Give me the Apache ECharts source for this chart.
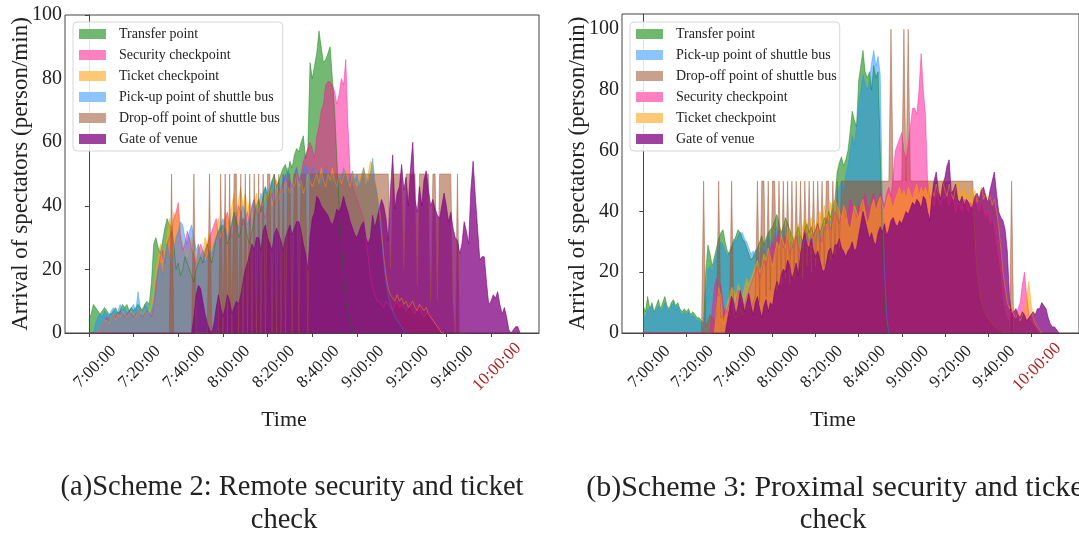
<!DOCTYPE html>
<html><head><meta charset="utf-8">
<script src="https://cdn.jsdelivr.net/npm/echarts@6.0.0/dist/echarts.min.js"></script>
<style>html,body{margin:0;padding:0;background:#fff}#c{width:1079px;height:535px}</style>
</head><body><div id="c"></div><script>
// x = minutes after 7:00:00 (array index = minute)
const xTickValues = [0,20,40,60,80,100,120,140,160,180];
const xTickLabels = ['7:00:00','7:20:00','7:40:00','8:00:00','8:20:00','8:40:00','9:00:00','9:20:00','9:40:00','10:00:00'];
const yTickValues = [0,20,40,60,80,100];

// ---------- (a) Scheme 2 ----------
const L_transfer = [
4,6,9,8,7,6,7,8,7,6, 6,7,8,6,7,9,8,9,7,8, 7,8,9,8,7,9,10,9,16,28, 30,27,25,29,33,36,34,33,28,20,
22,18,20,24,22,20,18,16,20,22, 24,22,26,28,24,22,26,30,32,33, 34,32,28,30,34,38,35,30,32,36, 34,30,28,32,36,40,42,38,44,46,
42,44,48,50,46,48,50,52,53,50, 54,52,56,58,57,60,62,55,58,85, 80,84,88,95,90,85,86,88,90,80, 70,55,40,28,18,10,6,3,1,0];
const L_security = [
0,0,0,0,0,2,3,4,5,4, 5,6,5,6,7,6,5,6,7,6, 5,6,7,6,5,6,7,6,5,8, 14,20,24,26,22,28,30,32,36,38,
41,30,26,28,32,30,26,24,22,26, 28,26,24,28,30,32,34,36,30,28, 32,36,38,34,30,32,36,40,38,34, 36,38,34,40,42,38,36,40,38,36,
40,42,44,40,42,46,44,48,50,46, 48,46,50,52,48,50,54,56,58,60, 58,55,62,65,70,72,78,79,79,78, 76,72,75,80,78,86,65,50,46,44,
42,40,38,36,30,24,18,14,12,10, 10,9,8,10,9,8,7,9,10,8, 9,8,7,8,9,7,6,8,9,6, 5,6,7,5,4,3,2,1,0,0];
const L_ticket = [
0,0,0,0,0,2,3,4,4,3, 5,6,4,6,5,7,6,5,6,7, 6,5,7,6,8,7,6,7,8,14, 20,24,28,22,26,30,36,32,38,35,
40,32,28,26,24,28,30,26,22,28, 24,26,30,28,32,26,30,34,36,30, 32,38,34,36,40,44,38,42,46,40, 44,38,42,36,40,44,38,42,40,44,
42,46,40,44,48,42,46,44,48,46, 44,48,46,50,46,48,44,46,50,48, 46,48,50,47,52,48,46,50,48,52, 48,46,50,47,49,52,48,46,50,48,
46,48,50,52,47,50,54,53,48,45, 40,32,24,18,14,12,11,10,12,10, 11,9,10,8,9,10,8,7,9,8, 7,8,6,5,4,3,2,1,0,0];
const L_pickup = [
0,0,0,3,5,6,5,7,6,5, 7,8,6,7,9,7,8,6,7,8, 9,7,13,8,7,9,8,6,7,10, 16,20,22,18,24,28,25,22,26,30,
32,35,34,30,28,32,34,30,26,28, 24,26,22,24,26,25,28,30,32,34, 36,34,30,32,35,38,36,33,37,40, 38,34,36,40,42,38,40,44,42,46,
44,46,48,44,46,48,45,50,47,52, 48,46,50,52,49,47,51,53,50,48, 52,50,48,51,46,50,52,48,50,47, 49,46,50,48,52,50,47,49,51,48,
50,46,48,52,49,47,50,55,48,44, 38,30,22,16,12,9,7,5,4,3, 2,1,0];
const L_dropoff = [
0,0,0,0,0,0,0,0,0,0, 0,0,0,0,0,0,0,0,0,0, 0,0,0,0,0,0,0,0,0,0, 0,0,0,0,0,0,0,50,0,0,
0,0,0,0,0,0,0,50,0,0, 0,0,0,0,50,0,0,0,0,50, 0,50,0,50,0,50,50,0,50,0, 50,0,50,0,50,0,50,0,50,0,
50,50,0,50,0,50,0,50,0,50, 50,0,50,50,0,50,50,50,0,50, 50,50,50,50,50,50,50,50,50,50, 50,50,50,50,50,50,50,50,50,50,
50,50,50,50,50,50,50,50,50,50, 50,50,50,50,50,20,50,50,50,50, 50,20,50,50,50,50,50,15,50,50, 50,50,50,10,50,50,10,50,50,50,
50,50,50,10,0,50,0,0,0,0];
const L_gate = [
0,0,0,0,0,0,0,0,0,0, 0,0,0,0,0,0,0,0,0,0, 0,0,0,0,0,0,0,0,0,0, 0,0,0,0,0,0,0,0,0,0,
0,0,0,0,0,0,0,5,12,15, 14,10,6,3,1,0,3,8,12,8, 5,8,12,10,6,8,10,9,12,16, 20,22,25,28,26,30,30,26,32,34,
30,28,26,31,33,31,29,26,30,32, 34,31,33,35,35,32,28,25,20,30, 36,38,43,42,40,39,38,37,35,34, 36,39,38,40,43,40,38,35,33,31,
30,32,34,35,30,28,30,37,33,36, 39,42,40,36,29,45,56,39,44,46, 53,45,49,40,52,60,42,38,46,40, 48,51,45,40,42,39,37,36,40,44,
40,35,38,33,30,29,25,28,35,32, 28,45,54,43,33,23,24,24,16,9, 10,12,11,13,9,6,8,5,1,0, 1,2,2,0];

// ---------- (b) Scheme 3 ----------
const R_transfer = [
9,7,12,8,10,7,9,11,8,10, 12,9,8,10,11,9,10,8,7,8, 7,8,6,7,6,5,5,4,3,20, 29,26,22,25,28,31,33,34,30,27,
26,28,30,32,34,33,31,30,28,26, 24,25,27,28,30,32,29,31,33,34, 35,37,39,36,33,35,38,36,34,32, 30,33,35,32,30,34,36,33,35,32,
34,36,33,35,38,36,40,38,42,44, 53,56,58,55,57,60,66,73,70,68, 83,88,93,86,84,86,80,88,84,86, 60,30,8,2,0];
const R_pickup = [
6,5,8,7,9,6,8,9,7,8, 10,8,7,9,10,8,9,7,6,7, 6,7,5,6,5,4,4,3,2,10, 21,22,20,23,26,28,30,29,27,25,
27,29,31,30,32,33,33,31,30,28, 26,27,25,28,26,29,27,30,32,30, 31,33,35,32,30,33,35,33,31,29, 28,31,32,30,28,31,33,30,32,29,
31,33,30,33,35,34,37,36,40,42, 45,48,50,46,52,55,60,65,62,68, 75,80,85,82,80,83,89,93,88,91, 85,44,20,5,0];
const R_dropoff = [
0,0,0,0,0,0,0,0,0,0, 0,0,0,0,0,0,0,0,0,0, 0,0,0,0,0,0,0,0,50,2, 4,6,5,4,6,50,5,6,8,7,
6,50,6,5,7,8,6,7,8,9, 8,10,12,50,10,50,50,12,50,14, 50,50,14,50,16,50,18,50,16,50, 18,50,20,50,18,50,22,50,20,50,
22,50,24,50,22,50,50,24,50,26, 50,28,50,50,50,50,50,50,50,50, 50,50,50,50,50,50,50,50,50,50, 50,50,50,50,50,100,50,50,50,50,
50,100,50,100,50,50,50,50,50,50, 50,50,50,50,50,50,50,50,50,50, 50,50,50,50,50,50,50,50,50,50, 50,50,50,50,30,20,15,10,8,6,
5,4,3,2,2,1,1,0,0,0, 0,50,0];
const R_security = [
0,0,0,0,0,0,0,0,0,0, 0,0,0,0,0,0,0,0,0,0, 0,0,0,0,0,0,0,0,0,0, 0,0,8,15,18,12,16,10,6,8,
10,12,8,10,14,12,10,9,12,14, 16,18,20,22,18,20,24,22,26,28, 30,28,32,34,30,28,32,30,26,28, 30,32,28,26,30,34,32,30,28,32,
34,36,32,30,34,38,36,34,38,40, 38,36,40,42,38,40,44,42,40,38, 42,40,44,46,42,40,44,46,42,44, 46,44,42,46,48,45,52,60,62,64,
66,60,57,62,68,74,74,72,80,92, 80,72,50,45,44,42,46,44,42,45, 44,46,42,45,44,40,43,42,40,44, 42,40,43,41,44,42,40,43,41,38,
40,36,38,35,30,25,20,12,8,5, 4,8,5,6,8,10,16,20,12,6, 4,3,2,1,0];
const R_ticket = [
0,0,0,0,0,0,0,0,0,0, 0,0,0,0,0,0,0,0,0,0, 0,0,0,0,0,0,0,0,0,0, 0,0,0,0,8,15,12,3,6,10,
12,15,14,12,16,14,12,15,18,16, 18,20,22,24,20,22,26,24,28,25, 22,26,30,28,32,30,28,35,30,33, 30,34,36,32,35,38,36,34,38,36,
35,38,40,36,42,40,38,43,41,44, 42,40,38,42,40,36,34,38,42,40, 38,42,44,40,36,38,42,44,40,43, 45,42,40,44,46,43,41,44,46,48,
45,47,44,48,46,44,47,49,45,48, 46,48,45,50,47,45,49,46,48,50, 47,45,49,46,44,48,50,47,45,49, 46,44,48,45,47,43,45,48,44,46,
43,45,42,44,40,35,28,20,15,10, 8,10,6,5,7,4,6,8,12,17, 10,5,3,2,1,0];
const R_gate = [
0,0,0,0,0,0,0,0,0,0, 0,0,0,0,0,0,0,0,0,0, 0,0,0,0,0,0,0,0,0,0, 0,0,0,0,0,0,0,0,0,4,
8,12,10,6,9,14,11,7,10,13, 9,6,10,12,8,5,9,11,7,10, 9,14,17,15,19,21,20,24,22,18, 20,23,19,26,30,33,29,28,31,27,
25,27,24,21,20,23,27,28,25,29, 29,31,28,27,25,27,28,30,27,28, 32,36,40,37,34,31,33,30,29,33, 35,33,36,32,34,37,38,36,35,37,
36,38,40,39,41,43,42,44,43,41, 45,44,40,37,45,50,53,47,44,49, 51,55,57,46,47,49,44,43,45,42, 44,43,41,42,45,46,44,47,48,45,
43,47,50,53,46,40,38,37,34,27, 12,6,7,8,6,5,7,6,4,5, 6,7,6,8,8,10,9,8,5,3, 2,2,1,0];

const N_T='Transfer point', N_S='Security checkpoint', N_K='Ticket checkpoint',
      N_P='Pick-up point of shuttle bus', N_D='Drop-off point of shuttle bus', N_G='Gate of venue';
const fills = {[N_T]:'rgba(0,128,0,0.55)',[N_S]:'rgba(255,20,147,0.52)',[N_K]:'rgba(255,165,0,0.55)',
  [N_P]:'rgba(30,144,255,0.5)',[N_D]:'rgba(160,82,45,0.55)',[N_G]:'rgba(128,0,128,0.75)'};
const swatch = {[N_T]:'#70b870',[N_S]:'#ff80c0',[N_K]:'#ffc874',[N_P]:'#8cc4fc',[N_D]:'#c8a08c',[N_G]:'#a040a0'};

const leftOrder = [[N_T,L_transfer],[N_S,L_security],[N_K,L_ticket],[N_P,L_pickup],[N_D,L_dropoff],[N_G,L_gate]];
const rightOrder = [[N_T,R_transfer],[N_P,R_pickup],[N_D,R_dropoff],[N_S,R_security],[N_K,R_ticket],[N_G,R_gate]];

const FONT = '"Liberation Serif","Times New Roman",serif';

function mkSeries(name, arr, gi){
  return {type:'line', name, xAxisIndex:gi, yAxisIndex:gi, silent:true,
    data: arr.map((v,i)=>[i,v]), symbol:'none', showSymbol:false,
    lineStyle:{width:0.8,color:fills[name]}, itemStyle:{color:swatch[name]},
    areaStyle:{color:fills[name], opacity:1}, animation:false};
}
function xAxis(gi,min,max){
  return {type:'value', gridIndex:gi, min, max,
    axisLine:{show:true,onZero:false,lineStyle:{color:'#444',width:1}},
    axisTick:{show:true,length:4,customValues:xTickValues,lineStyle:{color:'#444'}},
    splitLine:{show:false},
    axisLabel:{customValues:xTickValues, rotate:45, align:'center', verticalAlign:'middle', margin:40,
      padding:[0,0,0,17],
      fontFamily:FONT, fontSize:17, color:'#222',
      formatter:(v)=>{const i=xTickValues.indexOf(Math.round(v)); const t=xTickLabels[i];
        return i===xTickLabels.length-1?'{r|'+t+'}':t;},
      rich:{r:{color:'#b31b1b',fontFamily:FONT,fontSize:17}}}};
}
function yAxis(gi,max,gap){
  return {type:'value', gridIndex:gi, min:0, max,
    axisLine:{show:true,lineStyle:{color:'#444',width:1}},
    axisTick:{show:true,length:4,customValues:yTickValues,lineStyle:{color:'#444'}},
    splitLine:{show:false},
    axisLabel:{customValues:yTickValues, margin:3, fontFamily:FONT, fontSize:20, color:'#222'},
    name:'Arrival of spectators (person/min)', nameLocation:'middle', nameGap:gap, nameRotate:90,
    nameMoveOverlap:false,
    nameTextStyle:{fontFamily:FONT,fontSize:23,color:'#222'}};
}
function legend(left, order){
  return {show:true, orient:'vertical', left, top:22, icon:'rect', itemWidth:27, itemHeight:10, itemGap:7,
    selectedMode:false, padding:[5,3,5,6], borderColor:'#d6d6d6', borderWidth:1, borderRadius:4,
    backgroundColor:'rgba(255,255,255,0.85)',
    textStyle:{fontFamily:FONT,fontSize:14,color:'#222',lineHeight:14,padding:[0,0,0,8]},
    data: order.map(([n])=>({name:n, itemStyle:{color:swatch[n], borderColor:swatch[n]}}))};
}
function txt(t,x,y,size,color){
  return {type:'text', x, y, silent:true, style:{text:t, x:0, y:0, textAlign:'center', textVerticalAlign:'middle',
    align:'center', verticalAlign:'middle', font:size+'px '+FONT, fill:color||'#222'}};
}

const option = {
  backgroundColor:'#fff', animation:false,
  grid:[{left:65, top:15, width:474, height:318, show:true, borderColor:'#444', borderWidth:1, backgroundColor:'transparent'},
        {left:622, top:14, width:463, height:319, show:true, borderColor:'#444', borderWidth:1, backgroundColor:'transparent'}],
  xAxis:[xAxis(0,-10.7,201.5), xAxis(1,-9.9,202.3)],
  yAxis:[yAxis(0,100,33), yAxis(1,105,33)],
  legend:[legend(73,leftOrder), legend(630,rightOrder)],
  series:[...leftOrder.map(([n,a])=>mkSeries(n,a,0)), ...rightOrder.map(([n,a])=>mkSeries(n,a,1))],
  graphic:[
    txt('Time',284,420,22), txt('Time',833,420,22),
    txt('(a)Scheme 2: Remote security and ticket',292,488,28.5), txt('check',284,521,28.5),
    txt('(b)Scheme 3: Proximal security and ticket',839,488,30), txt('check',833,521,28.5)
  ]
};
const chart = echarts.init(document.getElementById('c'), null, {renderer:'canvas'});
chart.setOption(option);
</script></body></html>
